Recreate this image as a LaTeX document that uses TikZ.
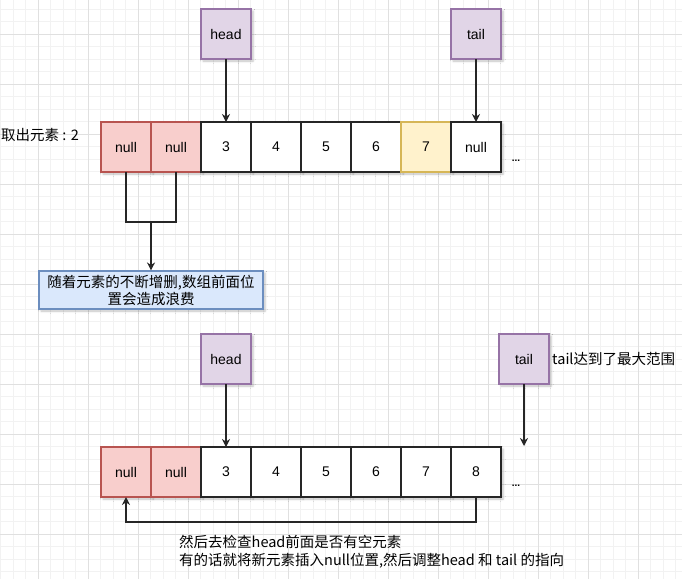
\documentclass[tikz,border=0pt]{standalone}
\usepackage{fontspec}
\setmainfont{Liberation Sans}
\newfontfamily\cjk{Noto Sans CJK SC}
\usetikzlibrary{positioning,arrows.meta,shadows.blur}
\definecolor{nullfill}{HTML}{F8CECC}\definecolor{nullline}{HTML}{B85450}
\definecolor{lastfill}{HTML}{FFF2CC}\definecolor{lastline}{HTML}{D6B656}
\definecolor{ptrfill}{HTML}{E1D5E7}\definecolor{ptrline}{HTML}{9673A6}
\definecolor{notefill}{HTML}{DAE8FC}\definecolor{noteline}{HTML}{6C8EBF}
\tikzset{
  cell/.style={draw=black!85, fill=white, line width=1.1pt, minimum size=50pt, inner sep=0pt, outer sep=0pt,
    font=\fontsize{14}{16}\selectfont, blur shadow={shadow xshift=2pt, shadow yshift=-2pt, shadow opacity=25}},
  nullcell/.style={cell, draw=nullline, fill=nullfill},
  lastcell/.style={cell, draw=lastline, fill=lastfill},
  ptr/.style={cell, draw=ptrline, fill=ptrfill},
  note/.style={draw=noteline, fill=notefill, line width=1.1pt, minimum width=224pt, minimum height=38pt, inner sep=1pt,
    align=center, font=\cjk\fontsize{14.5}{17}\selectfont, blur shadow={shadow xshift=2pt, shadow yshift=-2pt, shadow opacity=25}},
  txt/.style={inner sep=0pt, font=\cjk\fontsize{14.5}{17.5}\selectfont},
  arr/.style={-{Stealth[length=8pt,width=8pt]}, line width=1.1pt, black!85},
  minorgrid/.style={black!5, line width=0.6pt},
  majorgrid/.style={black!12, line width=0.8pt}
}

\begin{document}
\begin{tikzpicture}[x=1pt, y=-1pt]
\useasboundingbox (0,0) rectangle (682,579);
% background grid
\foreach \x in {0.5,13,...,682} \draw[minorgrid] (\x,0) -- (\x,579);
\foreach \y in {9,21.5,...,579} \draw[minorgrid] (0,\y) -- (682,\y);
\foreach \x in {38,88,...,682} \draw[majorgrid] (\x,0) -- (\x,579);
\foreach \y in {34,84,...,579} \draw[majorgrid] (0,\y) -- (682,\y);

% first array
\foreach \lbl/\sty [count=\i] in {null/nullcell,null/nullcell,3/cell,4/cell,5/cell,6/cell,7/lastcell,null/cell}
  \node[\sty] (t\i) at ({76+50*\i},147) {\lbl};
\node[ptr, above=63pt of t3] (head1) {head};
\node[ptr, above=63pt of t8] (tail1) {tail};
\draw[arr] (head1) -- (t3);
\draw[arr] (tail1) -- (t8);
\node[txt, anchor=west] (taken) at (1,135) {取出元素 : 2};
\node[inner sep=0pt, font=\bfseries] (dots1) at (516,161) {...};
\coordinate (brk) at (151,222);
\draw[line width=1.1pt, black!85] (t1.south) |- (brk) -| (t2.south);
\node[note] (waste) at (151,290) {随着元素的不断增删,数组前面位\\置会造成浪费};
\draw[arr] (brk) -- (waste);

% second array
\foreach \lbl/\sty [count=\i] in {null/nullcell,null/nullcell,3/cell,4/cell,5/cell,6/cell,7/cell,8/cell}
  \node[\sty] (b\i) at ({76+50*\i},472) {\lbl};
\node[ptr, above=63pt of b3] (head2) {head};
\node[ptr] (tail2) at (524,359) {tail};
\node[txt, right=3pt of tail2] (full) {tail达到了最大范围};
\coordinate (tailend) at (524,446);
\draw[arr] (head2) -- (b3);
\draw[arr] (tail2) -- (tailend);
\node[inner sep=0pt, font=\bfseries] (dots2) at (516,486) {...};
\draw[arr] (b8.south) -- ++(0,25) -| (b1.south);
\node[txt, anchor=north west, align=left] (check) at (179,535) {然后去检查head前面是否有空元素\\有的话就将新元素插入null位置,然后调整head 和 tail 的指向};
\end{tikzpicture}
\end{document}
